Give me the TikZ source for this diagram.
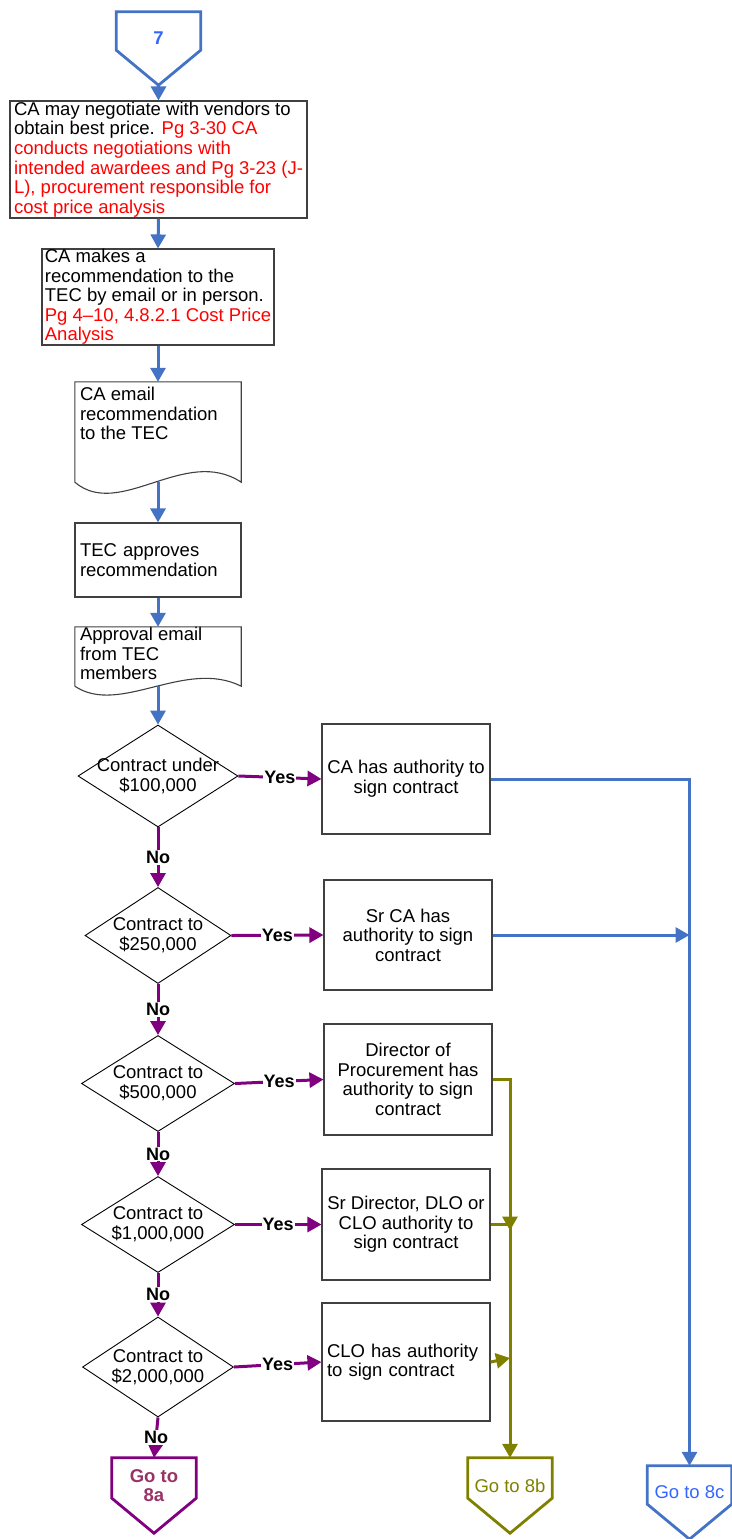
\documentclass[tikz,border=0pt]{standalone}
\usepackage{fontspec}
\setmainfont{Liberation Sans}
\usetikzlibrary{shapes.geometric,arrows.meta}
\definecolor{flowblue}{RGB}{68,114,196}
\definecolor{linkblue}{RGB}{51,102,255}
\definecolor{flowpurple}{RGB}{128,0,128}
\definecolor{flowolive}{RGB}{128,128,0}
\definecolor{plum}{RGB}{153,51,102}
\definecolor{boxline}{RGB}{64,64,64}
\definecolor{notered}{RGB}{255,0,0}

\begin{document}
\begin{tikzpicture}[x=1pt,y=-1pt,
  txt/.style={font=\fontsize{18.5}{19.6}\selectfont},
  box/.style={txt, draw=boxline, line width=1.1pt, rectangle, inner sep=0pt},
  docbox/.style={txt, rectangle, inner xsep=5pt},
  outline/.style={draw=boxline, line width=1.1pt},
  decision/.style={draw=black, line width=0.9pt, shape=diamond, inner sep=0pt},
  dtext/.style={txt, align=center},
  offpage/.style={rectangle, inner sep=0pt, minimum width=84pt, minimum height=#1},
  pentagon/.style={line width=2.8pt, line join=miter},
  tip/.style={-{Triangle[width=15pt,length=14pt]}},
  bluearrow/.style={tip, draw=flowblue, line width=3pt, color=flowblue},
  purplearrow/.style={tip, draw=flowpurple, line width=3pt, color=flowpurple},
  olivearrow/.style={tip, draw=flowolive, line width=3pt, color=flowolive},
  answer/.style={font=\bfseries\fontsize{18}{18}\selectfont, text=black, fill=white, inner sep=1pt}
]
\useasboundingbox (0,0) rectangle (731,1539);

% ---- start connector ----
\node[offpage=73pt, label={[yshift=10.5pt, font=\bfseries\fontsize{18.5}{19.6}\selectfont, text=linkblue]center:7}] (c7) at (158.5,48.5) {};
\draw[pentagon, draw=flowblue] (c7.north west) -- (c7.north east) -- ([yshift=35pt]c7.south east) -- (c7.south) -- ([yshift=35pt]c7.south west) -- cycle;

% ---- main column ----
\node[box, minimum width=297pt, minimum height=117pt, align=left] (b1) at (158.5,159.5)
  {CA may negotiate with vendors to\\
   obtain best price. {\color{notered}Pg 3-30 CA}\\
   {\color{notered}conducts negotiations with}\\
   {\color{notered}intended awardees and Pg 3-23 (J-}\\
   {\color{notered}L), procurement responsible for}\\
   {\color{notered}cost price analysis}};

\node[box, minimum width=232pt, minimum height=96pt, align=left] (b2) at (158,297)
  {CA makes a\\
   recommendation to the\\
   TEC by email or in person.\\
   {\color{notered}Pg 4--10, 4.8.2.1 Cost Price}\\
   {\color{notered}Analysis}};

\node[docbox, inner ysep=5pt] (doc1) at (158,432)
  {\parbox[t][90pt][t]{156pt}{\raggedright CA email\\recommendation\\to the TEC}};
\draw[outline] (doc1.south west) -- (doc1.north west) -- (doc1.north east) -- (doc1.south east)
  .. controls +(-56,-37) and +(45,38) .. (doc1.south west);

\node[box, minimum width=166pt, minimum height=74pt, text width=156pt, inner xsep=5pt, align=left] (b3) at (158,560)
  {TEC approves\\recommendation};

\node[docbox, inner ysep=0pt] (doc2) at (158,656.5)
  {\parbox[t][59pt][t]{156pt}{\raggedright Approval email\\from TEC\\members}};
\draw[outline] (doc2.south west) -- (doc2.north west) -- (doc2.north east) -- (doc2.south east)
  .. controls +(-56,-28) and +(45,30) .. (doc2.south west);

% ---- decisions ----
\node[decision, minimum width=160pt, minimum height=102pt,
  label={[dtext]center:{Contract under\\\$100,000}}] (d1) at (158,776) {};
\node[decision, minimum width=146pt, minimum height=96pt,
  label={[dtext]center:{Contract to\\\$250,000}}] (d2) at (158,935.5) {};
\node[decision, minimum width=153pt, minimum height=96pt,
  label={[dtext]center:{Contract to\\\$500,000}}] (d3) at (158,1083.5) {};
\node[decision, minimum width=153pt, minimum height=96pt,
  label={[dtext]center:{Contract to\\\$1,000,000}}] (d4) at (158,1224.5) {};
\node[decision, minimum width=151pt, minimum height=100pt,
  label={[dtext]center:{Contract to\\\$2,000,000}}] (d5) at (158,1367) {};

% ---- signing authority ----
\node[box, minimum width=168pt, minimum height=110pt, align=center] (bA) at (406,779)
  {CA has authority to\\sign contract};
\node[box, minimum width=168pt, minimum height=110pt, align=center] (bB) at (408,935)
  {Sr CA has\\authority to sign\\contract};
\node[box, minimum width=168pt, minimum height=111pt, align=center] (bC) at (408,1079.5)
  {Director of\\Procurement has\\authority to sign\\contract};
\node[box, minimum width=168pt, minimum height=111pt, align=center] (bD) at (406,1224.5)
  {Sr Director, DLO or\\CLO authority to\\sign contract};
\node[box, minimum width=168pt, minimum height=118pt, text width=158pt, inner xsep=5pt, align=left] (bE) at (406,1362)
  {CLO has authority\\to sign contract};

% ---- exit connectors ----
\node[offpage=75pt, label={[yshift=10pt, txt, font=\bfseries\fontsize{18.5}{19.6}\selectfont, text=plum, align=center]center:{Go to\\8a}}] (g8a) at (154,1495.5) {};
\draw[pentagon, draw=flowpurple] (g8a.north west) -- (g8a.north east) -- ([yshift=35pt]g8a.south east) -- (g8a.south) -- ([yshift=35pt]g8a.south west) -- cycle;

\node[offpage=75pt, label={[yshift=9.5pt, txt, text=flowolive]center:Go to 8b}] (g8b) at (510,1495.5) {};
\draw[pentagon, draw=flowolive] (g8b.north west) -- (g8b.north east) -- ([yshift=35pt]g8b.south east) -- (g8b.south) -- ([yshift=35pt]g8b.south west) -- cycle;

\node[offpage=73pt, label={[yshift=10.5pt, txt, text=linkblue]center:Go to 8c}] (g8c) at (689.5,1502.5) {};
\draw[pentagon, draw=flowblue] (g8c.north west) -- (g8c.north east) -- ([yshift=35pt]g8c.south east) -- (g8c.south) -- ([yshift=35pt]g8c.south west) -- cycle;

% ---- flow in the main column ----
\draw[bluearrow] (c7.south) -- (b1.north);
\draw[bluearrow] (b1.south) -- (b2.north);
\draw[bluearrow] (b2.south) -- (doc1.north);
\draw[bluearrow] (doc1.south) -- (b3.north);
\draw[bluearrow] (b3.south) -- (doc2.north);
\draw[bluearrow] (doc2.south) -- (d1.north);

% ---- decision branches ----
\draw[purplearrow] (d1.east) -- node[answer]{Yes} (bA.west);
\draw[purplearrow] (d2.east) -- node[answer]{Yes} (bB.west);
\draw[purplearrow] (d3.east) -- node[answer]{Yes} (bC.west);
\draw[purplearrow] (d4.east) -- node[answer]{Yes} (bD.west);
\draw[purplearrow] (d5.east) -- node[answer]{Yes} (bE.west);

\draw[purplearrow] (d1.south) -- node[answer]{No} (d2.north);
\draw[purplearrow] (d2.south) -- node[answer]{No} (d3.north);
\draw[purplearrow] (d3.south) -- node[answer]{No} (d4.north);
\draw[purplearrow] (d4.south) -- node[answer]{No} (d5.north);
\draw[purplearrow] (d5.south) -- node[answer]{No} (g8a.north);

% ---- routes to the exit connectors ----
\path (bE.east -| g8b.north) ++(0,-4) coordinate (eTip);
\draw[bluearrow] (bA.east) -| (g8c.north);
\draw[bluearrow] (bB.east) -- (bB.east -| g8c.north);
\draw[olivearrow] (bC.east) -| (g8b.north);
\draw[olivearrow] (bD.east) -- (bD.east -| g8b.north) -- ++(0,6);
\draw[olivearrow] (bE.east) -- (eTip);
\end{tikzpicture}
\end{document}
